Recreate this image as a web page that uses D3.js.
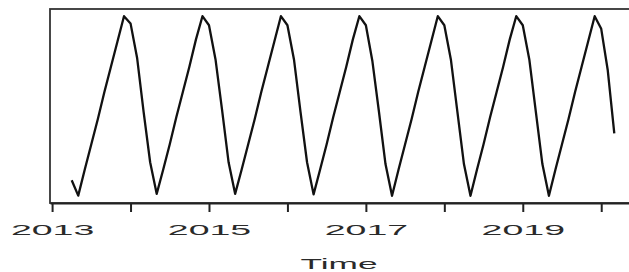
<!DOCTYPE html>
<html>
<head>
<meta charset="utf-8">
<script src="https://cdn.jsdelivr.net/npm/d3@7"></script>
<style>
  body { margin: 0; background: #fff; }
  text { font-family: "Liberation Sans", Arial, sans-serif; }
</style>
</head>
<body>
<script>
// Monthly series, April 2013 .. March 2020, one array per April-March year.
const fy2013 = [9, 0.5, 15, 29, 43, 58, 72, 86, 100, 96, 77, 47];
const fy2014 = [19, 1.5, 15, 29, 44, 58, 72, 87, 100, 95, 76, 48];
const fy2015 = [19, 1.5, 15, 29, 43, 58, 72, 86, 100, 95, 76, 47];
const fy2016 = [19, 1.2, 15, 29, 44, 58, 72, 87, 100, 95, 75, 47];
const fy2017 = [18, 0.4, 15, 29, 43, 58, 72, 86, 100, 95, 76, 47];
const fy2018 = [18, 0.4, 15, 29, 44, 58, 72, 87, 100, 95, 76, 47];
const fy2019 = [18, 0.4, 15, 29, 43, 58, 72, 86, 100, 93, 70, 35];

const startYear = 2013;
const startMonth = 4;

// Tick marks every year, labels only on every other one.
const tickYears = [2013, 2014, 2015, 2016, 2017, 2018, 2019, 2020];
const labelYears = [2013, 2015, 2017, 2019];
const xTitle = "Time";

// Plot box and stretch of the text.
const W = 629, H = 272;
const box = { left: 50, right: 636, top: 9, bottom: 203 };
const stretch = 2.5;

const values = [].concat(fy2013, fy2014, fy2015, fy2016, fy2017, fy2018, fy2019);
const series = values.map((v, i) => ({ t: startYear + (startMonth - 1 + i) / 12, v: v }));

const svg = d3.select("body").append("svg")
  .attr("width", W)
  .attr("height", H);

// Scales with the 4% padding R uses.
const tExt = d3.extent(series, d => d.t);
const vExt = d3.extent(series, d => d.v);
const tPad = (tExt[1] - tExt[0]) * 0.04;
const vPad = (vExt[1] - vExt[0]) * 0.04;

const x = d3.scaleLinear()
  .domain([tExt[0] - tPad, tExt[1] + tPad])
  .range([box.left, box.right]);
const y = d3.scaleLinear()
  .domain([vExt[0] - vPad, vExt[1] + vPad])
  .range([box.bottom, box.top]);

// Frame
svg.append("rect")
  .attr("x", box.left)
  .attr("y", box.top)
  .attr("width", box.right - box.left)
  .attr("height", box.bottom - box.top)
  .attr("fill", "none")
  .attr("stroke", "#333")
  .attr("stroke-width", 1.8);

// Series line
const line = d3.line()
  .x(d => x(d.t))
  .y(d => y(d.v));

svg.append("path")
  .datum(series)
  .attr("d", line)
  .attr("fill", "none")
  .attr("stroke", "#111")
  .attr("stroke-width", 2.3)
  .attr("stroke-linejoin", "round");

// Bottom axis
const xAxis = svg.append("g")
  .attr("transform", `translate(0,${box.bottom})`)
  .call(d3.axisBottom(x)
    .tickValues(tickYears)
    .tickSize(9)
    .tickSizeOuter(0)
    .tickPadding(12)
    .tickFormat(d => labelYears.includes(d) ? d : ""));

xAxis.select(".domain").attr("stroke", "#222").attr("stroke-width", 1.8);
xAxis.selectAll(".tick line").attr("stroke", "#222").attr("stroke-width", 2);
xAxis.selectAll(".tick text")
  .attr("fill", "#2a2a2a")
  .style("font-size", "15px")
  .attr("transform", `scale(${stretch},1)`);

// Axis title
svg.append("text")
  .attr("transform", `translate(${(box.left + box.right) / 2 - 4},${269}) scale(2.35,1)`)
  .attr("text-anchor", "middle")
  .attr("fill", "#2a2a2a")
  .style("font-size", "15px")
  .text(xTitle);
</script>
</body>
</html>
